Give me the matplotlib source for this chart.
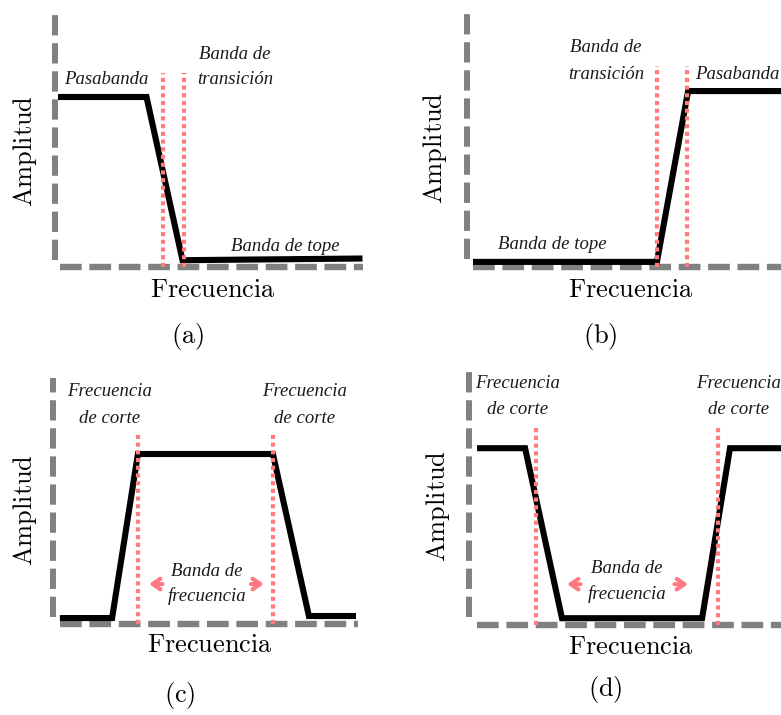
import matplotlib
matplotlib.use('Agg')
import matplotlib.pyplot as plt

plt.rcParams['mathtext.fontset'] = 'cm'

W, H = 781, 715
U, A = 30.0, 170.0  # px per frequency unit / per amplitude unit

# panel origins (where the dashed axes cross), in figure pixels
origins = {'a': (55, 267), 'b': (467, 267), 'c': (53, 624), 'd': (469, 625)}

# filter responses: frequency vs amplitude
freq_a = [0.1, 3.05, 4.25, 10.25]
amp_a = [1.0, 1.0, 0.04, 0.05]
freq_b = [0.2, 6.33, 7.37, 10.7]
amp_b = [0.03, 0.03, 1.035, 1.035]
freq_c = [0.23, 1.97, 2.83, 7.33, 8.53, 10.1]
amp_c = [0.035, 0.035, 1.0, 1.0, 0.047, 0.047]
freq_d = [0.27, 1.87, 3.1, 7.77, 8.7, 10.7]
amp_d = [1.04, 1.04, 0.04, 0.04, 1.04, 1.04]

# cutoff / transition markers
cut_a = [3.6, 4.3]
cut_b = [6.33, 7.33]
cut_c = [2.83, 7.33]
cut_d = [2.23, 8.3]
cut_top = {'a': 1.14, 'b': 1.18, 'c': 1.12, 'd': 1.165}

# extent of the dashed axes
vaxis = {'a': (0.04, 1.48), 'b': (0.05, 1.52), 'c': (0.04, 1.45), 'd': (0.05, 1.51)}
haxis = {'a': (0.17, 10.25), 'b': (0.2, 10.7), 'c': (0.23, 10.15), 'd': (0.27, 10.7)}

fig = plt.figure(figsize=(W / 100, H / 100), dpi=100)

GRAY = '#808080'
PINK = '#ff7b80'
ann = dict(fontsize=13.5, family='Liberation Serif', style='italic', color='#1a1a1a',
           ha='center', va='center')
big = dict(fontsize=19, ha='center', va='center')


def panel(key, freq, amp, cuts):
    ox, oy = origins[key]
    left, right, below, above = 70, 330, 90, 270
    ax = fig.add_axes([(ox - left) / W, (H - oy - below) / H, (left + right) / W, (below + above) / H])
    ax.set_xlim(-left / U, right / U)
    ax.set_ylim(-below / A, above / A)
    ax.set_axis_off()

    ax.plot([0, 0], vaxis[key], color=GRAY, lw=4.3, dashes=(3.4, 1.3), solid_capstyle='butt',
            dash_capstyle='butt', clip_on=False)
    ax.plot(haxis[key], [0, 0], color=GRAY, lw=4.6, dashes=(3.4, 1.2), dash_capstyle='butt',
            clip_on=False)
    for c in cuts:
        ax.plot([c, c], [0, cut_top[key]], color=PINK, lw=3.0, dashes=(1, 0.85),
                dash_capstyle='butt', clip_on=False, zorder=3)
    ax.plot(freq, amp, color='black', lw=4.4, solid_joinstyle='miter', solid_capstyle='butt',
            clip_on=False, zorder=2)
    return ax


ax = panel('a', freq_a, amp_a, cut_a)
ax.text(1.7, 1.1, 'Pasabanda', **ann)
ax.text(6.0, 1.25, 'Banda de', **ann)
ax.text(6.0, 1.1, 'transición', **ann)
ax.text(7.67, 0.12, 'Banda de tope', **ann)
ax.text(5.27, -0.135, r'$\mathrm{Frecuencia}$', **big)
ax.text(-1.0, 0.68, r'$\mathrm{Amplitud}$', rotation=90, **big)
ax.text(4.43, -0.41, r'$\mathrm{(a)}$', **big)

ax = panel('b', freq_b, amp_b, cut_b)
ax.text(4.63, 1.29, 'Banda de', **ann)
ax.text(4.63, 1.135, 'transición', **ann)
ax.text(7.6, 1.135, 'Pasabanda', **{**ann, 'ha': 'left'})
ax.text(2.83, 0.13, 'Banda de tope', **ann)
ax.text(5.47, -0.135, r'$\mathrm{Frecuencia}$', **big)
ax.text(-1.07, 0.7, r'$\mathrm{Amplitud}$', rotation=90, **big)
ax.text(4.43, -0.41, r'$\mathrm{(b)}$', **big)

arrow = dict(arrowstyle='->,head_length=0.55,head_width=0.38', color=PINK, lw=3.0,
             shrinkA=0, shrinkB=0)

ax = panel('c', freq_c, amp_c, cut_c)
for x in (1.9, 8.37):
    ax.text(x, 1.365, 'Frecuencia', **ann)
    ax.text(x, 1.21, 'de corte', **ann)
ax.text(5.13, 0.31, 'Banda de', **ann)
ax.text(5.13, 0.165, 'frecuencia', **ann)
ax.annotate('', xy=(3.2, 0.235), xytext=(3.65, 0.235), arrowprops=arrow)
ax.annotate('', xy=(7.03, 0.235), xytext=(6.6, 0.235), arrowprops=arrow)
ax.text(5.23, -0.124, r'$\mathrm{Frecuencia}$', **big)
ax.text(-0.93, 0.67, r'$\mathrm{Amplitud}$', rotation=90, **big)
ax.text(4.23, -0.42, r'$\mathrm{(c)}$', **big)

ax = panel('d', freq_d, amp_d, cut_d)
for x in (1.63, 8.97):
    ax.text(x, 1.42, 'Frecuencia', **ann)
    ax.text(x, 1.27, 'de corte', **ann)
ax.text(5.27, 0.33, 'Banda de', **ann)
ax.text(5.27, 0.18, 'frecuencia', **ann)
ax.annotate('', xy=(3.27, 0.24), xytext=(3.72, 0.24), arrowprops=arrow)
ax.annotate('', xy=(7.3, 0.24), xytext=(6.85, 0.24), arrowprops=arrow)
ax.text(5.4, -0.13, r'$\mathrm{Frecuencia}$', **big)
ax.text(-1.03, 0.7, r'$\mathrm{Amplitud}$', rotation=90, **big)
ax.text(4.53, -0.38, r'$\mathrm{(d)}$', **big)

fig.savefig('out.png', dpi=100, facecolor='white')
